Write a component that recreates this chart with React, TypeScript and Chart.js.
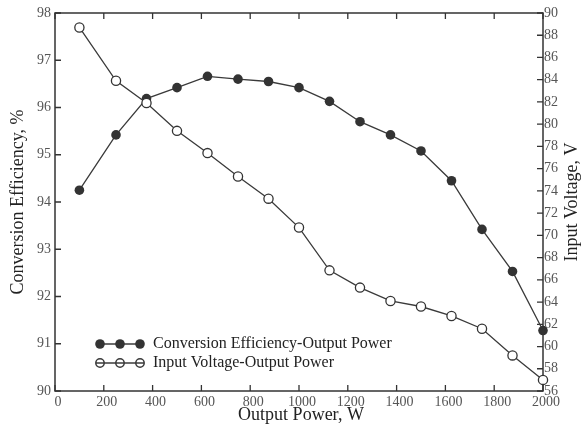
import React, { useEffect, useRef } from "react";
import { Chart, registerables } from "chart.js";

Chart.register(...registerables);

const powerW = [100, 250, 375, 500, 625, 750, 875, 1000, 1125, 1250, 1375, 1500, 1625, 1750, 1875, 2000];
const efficiency = [94.25, 95.42, 96.19, 96.42, 96.66, 96.6, 96.55, 96.42, 96.13, 95.7, 95.42, 95.08, 94.45, 93.42, 92.53, 91.28];
const voltage = [88.7, 83.9, 81.9, 79.4, 77.4, 75.3, 73.3, 70.7, 66.85, 65.3, 64.1, 63.6, 62.75, 61.6, 59.2, 57.0];

const xTitle = "Output Power, W";
const yTitle = "Conversion Efficiency, %";
const y1Title = "Input Voltage, V";
const legendLabels = ["Conversion Efficiency-Output Power", "Input Voltage-Output Power"];

const SERIF = "'Liberation Serif', 'Times New Roman', serif";
const AXIS = "#333";
const LINE = "#3a3a3a";

const framePlugin = {
  id: "frame",
  beforeDatasetsDraw(chart: any) {
    const { ctx, chartArea: a, scales } = chart;
    ctx.save();
    ctx.strokeStyle = AXIS;
    ctx.lineWidth = 1.5;
    ctx.strokeRect(a.left, a.top, a.right - a.left, a.bottom - a.top);
    ctx.lineWidth = 1.3;
    const tl = 6;
    ctx.beginPath();
    scales.x.ticks.forEach((t: any) => {
      const px = scales.x.getPixelForValue(t.value);
      ctx.moveTo(px, a.bottom);
      ctx.lineTo(px, a.bottom - tl);
      ctx.moveTo(px, a.top);
      ctx.lineTo(px, a.top + tl);
    });
    scales.y.ticks.forEach((t: any) => {
      const py = scales.y.getPixelForValue(t.value);
      ctx.moveTo(a.left, py);
      ctx.lineTo(a.left + tl, py);
    });
    scales.y1.ticks.forEach((t: any) => {
      const py = scales.y1.getPixelForValue(t.value);
      ctx.moveTo(a.right, py);
      ctx.lineTo(a.right - tl, py);
    });
    ctx.stroke();
    ctx.restore();
  },
  afterDraw(chart: any) {
    const { ctx, chartArea: a } = chart;
    ctx.save();
    ctx.fillStyle = "#222";
    ctx.font = `18px ${SERIF}`;
    ctx.textAlign = "center";
    ctx.textBaseline = "middle";
    ctx.fillText(xTitle, (a.left + a.right) / 2 + 2, 415);
    ctx.save();
    ctx.translate(18, (a.top + a.bottom) / 2);
    ctx.rotate(-Math.PI / 2);
    ctx.fillText(yTitle, 0, 0);
    ctx.restore();
    ctx.save();
    ctx.translate(572, (a.top + a.bottom) / 2);
    ctx.rotate(-Math.PI / 2);
    ctx.fillText(y1Title, 0, 0);
    ctx.restore();

    const xs = [100, 120, 140];
    const rows = [344, 363];
    ctx.strokeStyle = LINE;
    ctx.lineWidth = 1.5;
    ctx.beginPath();
    ctx.moveTo(xs[0], rows[0]);
    ctx.lineTo(xs[2], rows[0]);
    ctx.stroke();
    ctx.fillStyle = "#333";
    xs.forEach((x) => {
      ctx.beginPath();
      ctx.arc(x, rows[0], 4.8, 0, Math.PI * 2);
      ctx.fill();
    });
    ctx.beginPath();
    ctx.moveTo(xs[0] - 4, rows[1]);
    ctx.lineTo(xs[2] + 4, rows[1]);
    ctx.stroke();
    xs.forEach((x) => {
      ctx.beginPath();
      ctx.arc(x, rows[1], 4.2, 0, Math.PI * 2);
      ctx.stroke();
    });
    ctx.fillStyle = "#222";
    ctx.font = `16px ${SERIF}`;
    ctx.textAlign = "left";
    ctx.fillText(legendLabels[0], 153, rows[0]);
    ctx.fillText(legendLabels[1], 153, rows[1]);
    ctx.restore();
  },
};

export default function App() {
  const ref = useRef<HTMLCanvasElement | null>(null);
  useEffect(() => {
    document.body.style.margin = "0";
    const canvas = ref.current;
    if (!canvas) return;
    const tickFont = { family: SERIF, size: 14 };
    const plain = (v: any) => String(v);
    const chart = new Chart(canvas, {
      type: "line",
      data: {
        datasets: [
          {
            label: legendLabels[1],
            data: powerW.map((x, i) => ({ x, y: voltage[i] })),
            yAxisID: "y1",
            borderColor: LINE,
            borderWidth: 1.3,
            pointRadius: 4.6,
            pointBorderWidth: 1.3,
            pointBackgroundColor: "#fff",
            pointBorderColor: "#333",
            tension: 0,
            clip: false,
            order: 0,
          },
          {
            label: legendLabels[0],
            data: powerW.map((x, i) => ({ x, y: efficiency[i] })),
            yAxisID: "y",
            borderColor: LINE,
            borderWidth: 1.3,
            pointRadius: 4.8,
            pointBorderWidth: 0,
            pointBackgroundColor: "#333",
            pointBorderColor: "#333",
            tension: 0,
            clip: false,
            order: 1,
          },
        ],
      },
      options: {
        responsive: false,
        animation: false,
        events: [],
        layout: { padding: { top: 13, left: 0, right: 0, bottom: 0 } },
        plugins: { legend: { display: false }, tooltip: { enabled: false } },
        scales: {
          x: {
            type: "linear",
            position: "bottom",
            min: 0,
            max: 2000,
            ticks: { stepSize: 200, color: "#555", font: tickFont, padding: 3, maxRotation: 0, labelOffset: 3, callback: plain },
            grid: { display: false, drawTicks: false },
            border: { display: false },
            afterFit: (s: any) => { s.height = 36; },
          },
          y: {
            type: "linear",
            position: "left",
            min: 90,
            max: 98,
            ticks: { stepSize: 1, color: "#555", font: tickFont, padding: 4, callback: plain },
            grid: { display: false, drawTicks: false },
            border: { display: false },
            afterFit: (s: any) => { s.width = 55; },
          },
          y1: {
            type: "linear",
            position: "right",
            min: 56,
            max: 90,
            ticks: { stepSize: 2, color: "#555", font: tickFont, padding: 1, callback: plain },
            grid: { display: false, drawTicks: false },
            border: { display: false },
            afterFit: (s: any) => { s.width = 41; },
          },
        },
      },
      plugins: [framePlugin],
    });
    return () => chart.destroy();
  }, []);
  return (
    <div style={{ width: 584, height: 427 }}>
      <canvas ref={ref} width={584} height={427} style={{ display: "block" }} />
    </div>
  );
}
